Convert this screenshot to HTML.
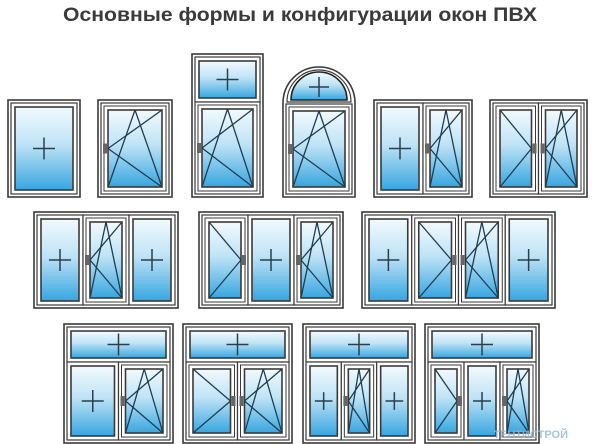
<!DOCTYPE html>
<html><head><meta charset="utf-8"><style>
html,body{margin:0;padding:0;background:#fff;width:600px;height:444px;overflow:hidden}
svg{display:block}
</style></head><body>
<svg id="s" width="600" height="444" viewBox="0 0 600 444" xmlns="http://www.w3.org/2000/svg">
<defs>
<linearGradient id="g" x1="0" y1="0" x2="0" y2="1">
<stop offset="0" stop-color="#f2fafe"/><stop offset="0.45" stop-color="#bfe3f6"/><stop offset="1" stop-color="#36a6e0"/>
</linearGradient>
</defs>
<text x="300" y="21" text-anchor="middle" font-family="Liberation Sans, sans-serif" font-weight="bold" font-size="19" fill="#3a3a3a" textLength="474" lengthAdjust="spacingAndGlyphs">Основные формы и конфигурации окон ПВХ</text>
<g id="w"></g>
<text x="568" y="438" text-anchor="end" font-family="Liberation Sans, sans-serif" font-weight="bold" font-size="11" fill="#8fb8d8" opacity="0.8">ТЕНТИСТРОЙ</text>
</svg>
<script>
var out='';
function R(x,y,w,h,f,sw){out+='<rect x="'+x+'" y="'+y+'" width="'+w+'" height="'+h+'" fill="'+f+'" stroke="#3a3a3a" stroke-width="'+(sw||1.3)+'"/>';}
function L(a,b,c,d,sw,col){out+='<line x1="'+a+'" y1="'+b+'" x2="'+c+'" y2="'+d+'" stroke="'+(col||'#1f3d52')+'" stroke-width="'+(sw||1.3)+'"/>';}
function cross(cx,cy,s){L(cx-s,cy,cx+s,cy,1.5,'#2b3f4c');L(cx,cy-s,cx,cy+s,1.5,'#2b3f4c');}
function pane(x,y,w,h,t){
  R(x,y,w,h,'#fff',1.2);
  if(t=='fix'){R(x+4,y+4,w-8,h-8,'url(#g)',1.6);cross(x+w/2,y+h/2,Math.min(11,w/4));return;}
  R(x+3,y+3,w-6,h-6,'#fff',1);
  var gx=x+7,gy=y+7,gw=w-14,gh=h-14;
  R(gx,gy,gw,gh,'url(#g)',1.6);
  var my=gy+gh/2;
  if(t=='ttL'){
    L(gx,my,gx+gw,gy);L(gx,my,gx+gw,gy+gh);
    L(gx,gy+gh,gx+gw/2,gy);L(gx+gw/2,gy,gx+gw,gy+gh);
    out+='<rect x="'+(x+2)+'" y="'+(my-5)+'" width="4" height="10" fill="#666"/>';
  } else {
    L(gx+gw,my,gx,gy);L(gx+gw,my,gx,gy+gh);
    out+='<rect x="'+(x+w-6)+'" y="'+(my-5)+'" width="4" height="10" fill="#666"/>';
  }
}
function win(x,y,w,h,types,tr){
  R(x,y,w,h,'#fff',1.6);
  var ix=x+3,iy=y+3,iw=w-6,ih=h-6;
  if(tr){pane(ix,iy,iw,tr-3,'fix');iy=y+tr;ih=h-tr-3;}
  var pw=iw/types.length;
  for(var i=0;i<types.length;i++)pane(ix+i*pw,iy,pw,ih,types[i]);
}
// row 1
win(8,100,72,97,['fix']);
win(98,100,74,97,['ttL']);
win(192,54,71,143,['ttL'],48);
// arch
out+='<path d="M283,197 L283,103 A36,36 0 0 1 355,103 L355,197 Z" fill="#fff" stroke="#3a3a3a" stroke-width="1.6"/>';
out+='<path d="M287,102 A32,32 0 0 1 351,102 Z" fill="#fff" stroke="#3a3a3a" stroke-width="1.2"/>';
out+='<path d="M291,100 A28,28 0 0 1 347,100 Z" fill="url(#g)" stroke="#222" stroke-width="1.6"/>';
cross(319,87,10);
pane(286,104,66,90,'ttL');
win(374,100,98,97,['fix','ttL']);
win(490,100,97,97,['turnR','ttL']);
// row 2
win(34,212,144,96,['fix','ttL','fix']);
win(199,212,144,96,['turnR','fix','ttL']);
win(362,212,193,96,['fix','turnR','ttL','fix']);
// row 3
win(64,324,109,119,['fix','ttL'],38);
win(183,324,109,119,['turnR','ttL'],38);
win(303,324,112,119,['fix','ttL','fix'],38);
win(425,324,114,119,['turnR','fix','ttL'],38);
document.getElementById('w').innerHTML=out;
</script>
</body></html>
